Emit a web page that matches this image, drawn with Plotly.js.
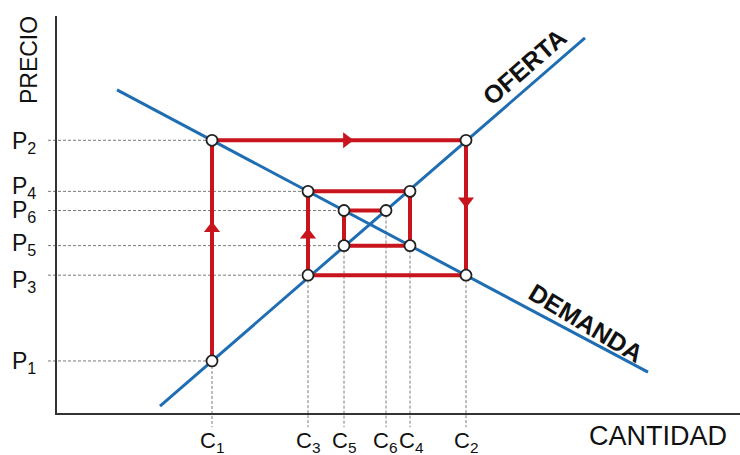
<!DOCTYPE html>
<html>
<head>
<meta charset="utf-8">
<script src="https://cdn.plot.ly/plotly-3.0.1.min.js"></script>
<style>html,body{margin:0;padding:0;background:#fff;}#chart{width:740px;height:455px;}</style>
</head>
<body>
<div id="chart"></div>
<script>
// Quantities (C) and prices (P)
const cLabels = ['C<sub>1</sub>', 'C<sub>2</sub>', 'C<sub>3</sub>', 'C<sub>4</sub>', 'C<sub>5</sub>', 'C<sub>6</sub>'];
const cValues = [39, 102.5, 63, 88.5, 72, 82.5];
const pLabels = ['P<sub>1</sub>', 'P<sub>2</sub>', 'P<sub>3</sub>', 'P<sub>4</sub>', 'P<sub>5</sub>', 'P<sub>6</sub>'];
const pValues = [13.3, 68.6, 34.8, 55.8, 42.2, 51.0];

// Demand and supply lines (end points)
const demandQ = [15.25, 148];
const demandP = [81.25, 10.5];
const supplyQ = [26, 132.25];
const supplyP = [2, 94.25];

// Cobweb path: indices into cValues / pValues
const pathC = [0, 0, 1, 1, 2, 2, 3, 3, 4, 4, 5];
const pathP = [0, 1, 1, 2, 2, 3, 3, 4, 4, 5, 5];
// segments carrying an arrow, and where along the segment
const arrowSeg = [0, 1, 2, 4];
const arrowAt = [0.6, 0.53, 0.45, 0.48];

const axisTopP = 99.75;
const axisRightQ = 171;

// layout: nudges (px) of labels, to keep them apart
const pLabelShift = [-2, -2, -6, 4, 1, -1];
const cLabelShift = [0, 0, 0, 1, 0, -1];

const BLUE = '#1f6db2';
const RED = '#c8141c';
const GUIDE = '#7a7a7a';

const px = pathC.map(i => cValues[i]);
const py = pathP.map(i => pValues[i]);

const traces = [];

// dotted guide lines: horizontal from left to leftmost vertex at each price
pValues.forEach((p, j) => {
  let minQ = Infinity;
  px.forEach((q, k) => { if (pathP[k] === j) minQ = Math.min(minQ, q); });
  traces.push({x: [-2, minQ], y: [p, p], mode: 'lines', hoverinfo: 'skip',
    line: {color: GUIDE, width: 1, dash: '3px,2px'}});
});
// vertical from lowest vertex at each quantity down below axis
cValues.forEach((q, i) => {
  let minP = Infinity;
  py.forEach((p, k) => { if (pathC[k] === i) minP = Math.min(minP, p); });
  traces.push({x: [q, q], y: [minP, -3.3], mode: 'lines', hoverinfo: 'skip',
    line: {color: GUIDE, width: 1, dash: '3px,2px'}});
});

// supply & demand
traces.push({x: demandQ, y: demandP, mode: 'lines', line: {color: BLUE, width: 3}, hoverinfo: 'skip'});
traces.push({x: supplyQ, y: supplyP, mode: 'lines', line: {color: BLUE, width: 3}, hoverinfo: 'skip'});

// red cobweb
traces.push({x: px, y: py, mode: 'lines', line: {color: RED, width: 4}, hoverinfo: 'skip'});

// arrows
const ax = [], ay = [], asym = [];
arrowSeg.forEach((k, n) => {
  const t = arrowAt[n];
  const x0 = px[k], y0 = py[k], x1 = px[k + 1], y1 = py[k + 1];
  ax.push(x0 + (x1 - x0) * t);
  ay.push(y0 + (y1 - y0) * t);
  let s;
  if (x1 > x0) s = 'triangle-right';
  else if (x1 < x0) s = 'triangle-left';
  else if (y1 > y0) s = 'triangle-up';
  else s = 'triangle-down';
  asym.push(s);
});
traces.push({x: ax, y: ay, mode: 'markers', hoverinfo: 'skip',
  marker: {symbol: asym, size: 14, color: RED, line: {width: 0}}});

// axes lines
traces.push({x: [0, 0, axisRightQ], y: [axisTopP, 0, 0], mode: 'lines', hoverinfo: 'skip',
  line: {color: '#333', width: 2}});

// circles at vertices
traces.push({x: px, y: py, mode: 'markers', hoverinfo: 'skip',
  marker: {symbol: 'circle', size: 11, color: '#fff', line: {color: '#222', width: 1.8}}});

const FONT = 'Liberation Sans, Arial, sans-serif';
const annotations = [];
cValues.forEach((q, i) => {
  annotations.push({x: q, xref: 'x', y: 0, yref: 'paper', yanchor: 'top', xanchor: 'center',
    yshift: 5, xshift: cLabelShift[i], text: cLabels[i], showarrow: false,
    font: {family: FONT, size: 22, color: '#111'}});
});
pValues.forEach((p, j) => {
  annotations.push({x: -0.003, xref: 'paper', y: p, yref: 'y', xanchor: 'right', yanchor: 'middle',
    yshift: pLabelShift[j], text: pLabels[j], showarrow: false, font: {family: FONT, size: 23, color: '#111'}});
});
annotations.push({x: -0.0157, xref: 'paper', y: 0.877, yref: 'paper', xanchor: 'center', yanchor: 'middle',
  text: 'PRECIO', textangle: -90, showarrow: false, font: {family: FONT, size: 23, color: '#111'}});
annotations.push({x: 0.883, xref: 'paper', y: -0.012, yref: 'paper', xanchor: 'center', yanchor: 'middle',
  text: 'CANTIDAD', showarrow: false, font: {family: FONT, size: 27, color: '#111'}});
annotations.push({x: 117, xref: 'x', y: 87, yref: 'y', xanchor: 'center', yanchor: 'middle',
  text: 'OFERTA', textangle: -41, showarrow: false, font: {family: FONT, size: 25, color: '#111', weight: 'bold'}});
annotations.push({x: 132.5, xref: 'x', y: 22.75, yref: 'y', xanchor: 'center', yanchor: 'middle',
  text: 'DEMANDA', textangle: 31, showarrow: false, font: {family: FONT, size: 25, color: '#111', weight: 'bold'}});

const layout = {
  width: 740, height: 455,
  margin: {l: 40, r: 0, t: 8, b: 24},
  paper_bgcolor: '#fff', plot_bgcolor: '#fff',
  showlegend: false,
  xaxis: {range: [-4, 171], visible: false, fixedrange: true},
  yaxis: {range: [-4.25, 101.75], visible: false, fixedrange: true},
  annotations: annotations
};

Plotly.newPlot('chart', traces, layout, {displayModeBar: false, staticPlot: true});
</script>
</body>
</html>
